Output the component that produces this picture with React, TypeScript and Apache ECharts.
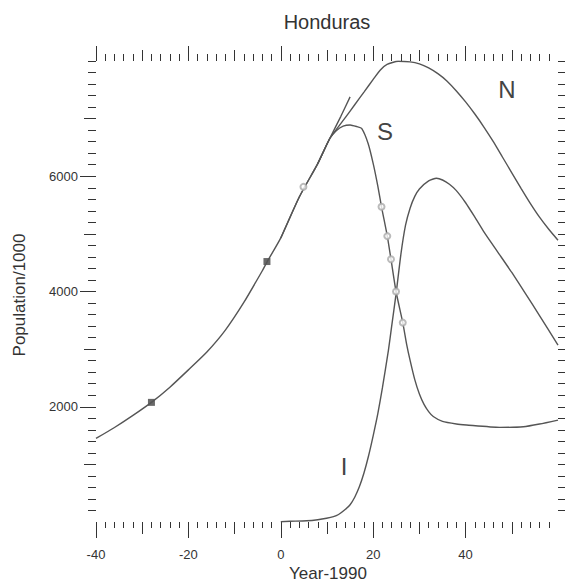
import React, { useEffect, useRef } from 'react';
import * as echarts from 'echarts';

// Total population N
const nYears = [-40, -36, -32, -28, -24, -20, -16, -12, -8, -4, -3, 0, 4, 8, 10.6, 14, 16, 18, 20, 21.5, 23, 25.4, 28, 30, 32, 34, 36, 38, 40, 42, 44, 46, 48, 50, 52, 54, 56, 58, 60];
const nValues = [1450, 1640, 1850, 2076, 2340, 2640, 2950, 3330, 3810, 4360, 4510, 4930, 5640, 6220, 6655, 7022, 7241, 7460, 7680, 7840, 7940, 7995, 7985, 7950, 7880, 7780, 7650, 7480, 7290, 7080, 6850, 6600, 6330, 6060, 5790, 5530, 5290, 5080, 4890];

// Susceptible S
const sYears = [0, 4, 8, 10.6, 12, 13.5, 15, 16.5, 17.5, 18.9, 20, 21, 21.8, 23.05, 23.85, 24.94, 26.4, 27.25, 28, 29, 30, 31, 32, 33, 35, 38, 40.2, 47.4, 52.5, 56, 60];
const sValues = [4930, 5640, 6220, 6655, 6790, 6870, 6890, 6860, 6830, 6569, 6220, 5830, 5470, 4961, 4560, 4000, 3460, 3080, 2800, 2470, 2220, 2040, 1915, 1830, 1745, 1700, 1683, 1642, 1653, 1700, 1769];

// Infected I
const iYears = [0, 2, 5.6, 8, 9.9, 11.4, 12.5, 14, 15, 16, 17, 18, 19, 20, 21, 22, 23.3, 24, 25, 26, 27, 28, 29, 30, 32, 33.7, 35, 36.5, 38, 40, 42, 44, 47, 50, 53, 56, 60];
const iValues = [5, 12, 22, 40, 64, 92, 130, 220, 300, 430, 610, 850, 1150, 1500, 1880, 2330, 2983, 3400, 3990, 4650, 5150, 5450, 5650, 5780, 5920, 5965, 5935, 5860, 5750, 5540, 5290, 5030, 4680, 4330, 3960, 3580, 3070];

// Exponential-growth fit extension
const fitYears = [8, 10.6, 13, 15];
const fitValues = [6220, 6655, 7040, 7378];

// Census points (filled squares)
const censusYears = [-28, -3];
const censusValues = [2076, 4520];

// Hollow point markers
const markYears = [4.9, 21.8, 23.05, 23.85, 24.94, 26.4];
const markValues = [5816, 5470, 4961, 4560, 4000, 3460];

// Ticks
const xLabelTicks = [-40, -20, 0, 20, 40];
const xMidTicks = [-30, -10, 10, 30, 50];
const xMinorTicks: number[] = [];
for (let v = -38; v <= 58; v += 2) if (v % 10 !== 0) xMinorTicks.push(v);
const yLabelTicks = [2000, 4000, 6000];
const yMidTicks = [1000, 3000, 5000, 7000];
const yMinorTicks: number[] = [];
for (let v = 200; v <= 8000; v += 200) if (v % 1000 !== 0 || v === 8000) yMinorTicks.push(v);
const yAllTicks: number[] = [];
for (let v = 200; v <= 8000; v += 200) yAllTicks.push(v);

const INK = '#333';
const CURVE = '#555';
const FONT = '"Liberation Sans", Arial, sans-serif';

function xAx(position: string, values: number[], length: number, labels: boolean) {
  return {
    type: 'value', min: -40, max: 60, position,
    axisLine: { show: false, onZero: false },
    splitLine: { show: false },
    axisTick: { show: true, length, customValues: values, lineStyle: { color: INK, width: 1 } },
    axisLabel: labels
      ? { show: true, customValues: values, margin: 26, color: INK, fontSize: 13, fontFamily: FONT, formatter: (v: number) => String(v) }
      : { show: false },
  };
}
function yAx(position: string, values: number[], length: number, labels: boolean) {
  return {
    type: 'value', min: 0, max: 8000, position,
    axisLine: { show: false, onZero: false },
    splitLine: { show: false },
    axisTick: { show: true, length, customValues: values, lineStyle: { color: INK, width: 1 } },
    axisLabel: labels
      ? { show: true, customValues: values, margin: 18, color: INK, fontSize: 13, fontFamily: FONT, formatter: (v: number) => String(v) }
      : { show: false },
  };
}

const zip = (xs: number[], ys: number[]) => xs.map((x, i) => [x, ys[i]]);

export default function App() {
  const ref = useRef<HTMLDivElement>(null);
  useEffect(() => {
    if (!ref.current) return;
    const chart = echarts.init(ref.current, undefined, { renderer: 'svg' });
    const lineBase = {
      type: 'line', xAxisIndex: 0, yAxisIndex: 0, showSymbol: false, smooth: 0.2,
      lineStyle: { color: CURVE, width: 1.4 }, silent: true,
    };
    chart.setOption({
      animation: false,
      backgroundColor: '#fff',
      grid: { left: 96, right: 9, top: 61, bottom: 65, containLabel: false },
      xAxis: [
        xAx('bottom', xLabelTicks, 16, true),
        xAx('bottom', xMidTicks, 12, false),
        xAx('bottom', xMinorTicks, 6, false),
        xAx('top', xLabelTicks, 15, false),
        xAx('top', xMidTicks, 11, false),
        xAx('top', xMinorTicks, 7, false),
      ],
      yAxis: [
        yAx('left', yLabelTicks, 16, true),
        yAx('left', yMidTicks, 12, false),
        yAx('left', yMinorTicks, 8, false),
        yAx('right', yAllTicks, 7, false),
      ],
      series: [
        { ...lineBase, name: 'N', data: zip(nYears, nValues) },
        { ...lineBase, name: 'S', data: zip(sYears, sValues) },
        { ...lineBase, name: 'I', data: zip(iYears, iValues) },
        { ...lineBase, name: 'fit', data: zip(fitYears, fitValues) },
        {
          type: 'scatter', xAxisIndex: 0, yAxisIndex: 0, name: 'census',
          symbol: 'rect', symbolSize: 7, itemStyle: { color: '#444' },
          data: zip(censusYears, censusValues),
        },
        {
          type: 'scatter', xAxisIndex: 0, yAxisIndex: 0, name: 'marks',
          symbol: 'emptyCircle', symbolSize: 6, itemStyle: { color: '#aaa', borderColor: '#aaa', borderWidth: 1 },
          data: zip(markYears, markValues), z: 5,
        },
      ],
      graphic: [
        { type: 'text', x: 327, y: 22, style: { text: 'Honduras', font: `20px ${FONT}`, fill: INK, align: 'center', verticalAlign: 'middle', textAlign: 'center', textVerticalAlign: 'middle' } },
        { type: 'text', x: 328, y: 573, style: { text: 'Year-1990', font: `17px ${FONT}`, fill: INK, align: 'center', verticalAlign: 'middle', textAlign: 'center', textVerticalAlign: 'middle' } },
        { type: 'text', x: 19, y: 295, rotation: Math.PI / 2, style: { text: 'Population/1000', font: `17px ${FONT}`, fill: INK, align: 'center', verticalAlign: 'middle', textAlign: 'center', textVerticalAlign: 'middle' } },
        { type: 'text', x: 507, y: 89, style: { text: 'N', font: `24px ${FONT}`, fill: '#444', align: 'center', verticalAlign: 'middle', textAlign: 'center', textVerticalAlign: 'middle' } },
        { type: 'text', x: 385, y: 131, style: { text: 'S', font: `24px ${FONT}`, fill: '#444', align: 'center', verticalAlign: 'middle', textAlign: 'center', textVerticalAlign: 'middle' } },
        { type: 'text', x: 344, y: 466, style: { text: 'I', font: `24px ${FONT}`, fill: '#444', align: 'center', verticalAlign: 'middle', textAlign: 'center', textVerticalAlign: 'middle' } },
      ],
    });
    return () => chart.dispose();
  }, []);
  return <div ref={ref} style={{ position: 'absolute', left: 0, top: 0, width: 567, height: 587 }} />;
}
